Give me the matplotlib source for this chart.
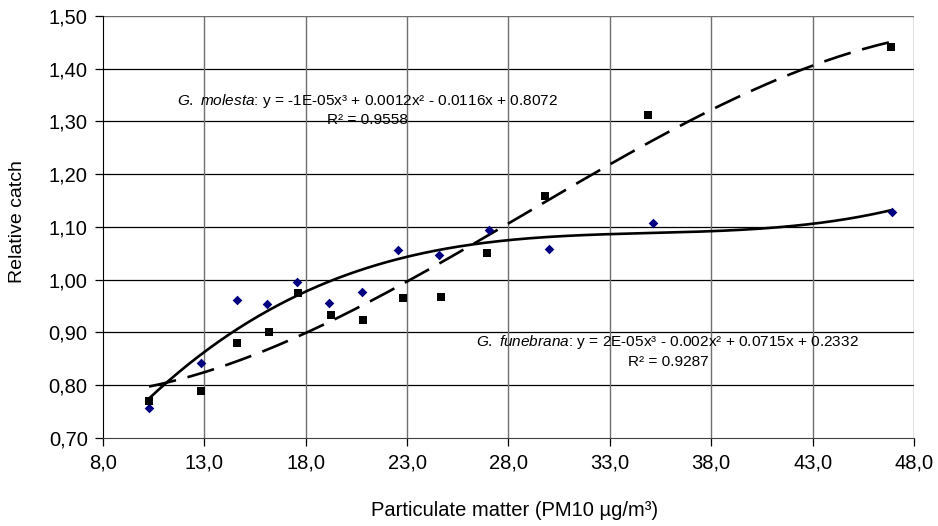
import numpy as np
import matplotlib
matplotlib.use("Agg")
import matplotlib.pyplot as plt
from matplotlib.ticker import FuncFormatter

plt.rcParams['font.family'] = ['Liberation Sans', 'DejaVu Sans']
plt.rcParams['mathtext.fontset'] = 'custom'
plt.rcParams['mathtext.rm'] = 'Liberation Sans'
plt.rcParams['mathtext.it'] = 'Liberation Sans:italic'

# G. molesta (black squares, dashed cubic trend)
mol_x = [10.27, 12.82, 14.62, 16.20, 17.63, 19.26, 20.84, 22.78, 24.68, 26.92, 29.81, 34.87, 46.89]
mol_y = [0.771, 0.789, 0.880, 0.900, 0.974, 0.934, 0.923, 0.966, 0.968, 1.050, 1.159, 1.312, 1.441]

# G. funebrana (navy diamonds, solid cubic trend)
fun_x = [10.27, 12.82, 14.61, 16.10, 17.55, 19.16, 20.77, 22.55, 24.58, 27.05, 30.01, 35.14, 46.90]
fun_y = [0.756, 0.843, 0.961, 0.954, 0.996, 0.956, 0.977, 1.056, 1.047, 1.094, 1.058, 1.107, 1.129]

x_ticks = [8, 13, 18, 23, 28, 33, 38, 43, 48]
y_ticks = [0.7, 0.8, 0.9, 1.0, 1.1, 1.2, 1.3, 1.4, 1.5]

fig = plt.figure(figsize=(9.38, 5.26), dpi=100)
ax = fig.add_axes([0.1098, 0.1673, 0.8646, 0.8023])

# trendlines (cubic polynomial fits, as in the spreadsheet)
for xs, ys, ls in [(mol_x, mol_y, (0, (10.5, 4.5))), (fun_x, fun_y, '-')]:
    c = np.polyfit(xs, ys, 3)
    xx = np.linspace(min(xs), max(xs), 300)
    ax.plot(xx, np.polyval(c, xx), color='black', lw=1.9, linestyle=ls, zorder=3)

ax.scatter(fun_x, fun_y, marker='D', s=24, color='#000080', zorder=4, linewidths=0)
ax.scatter(mol_x, mol_y, marker='s', s=36, color='black', zorder=4, linewidths=0)

ax.set_xlim(8, 48)
ax.set_ylim(0.70, 1.50)
ax.set_xticks(x_ticks)
ax.set_yticks(y_ticks)
ax.xaxis.set_major_formatter(FuncFormatter(lambda v, p: f"{v:.1f}".replace('.', ',')))
ax.yaxis.set_major_formatter(FuncFormatter(lambda v, p: f"{v:.2f}".replace('.', ',')))

for y in y_ticks[1:-1]:
    ax.axhline(y, color='black', lw=0.9, zorder=1)
ax.axhline(y_ticks[-1], color='#707070', lw=1.0, zorder=1)
for x in x_ticks[1:]:
    ax.axvline(x, color='#707070', lw=1.0, zorder=1)

for s in ['top', 'right']:
    ax.spines[s].set_visible(False)
ax.spines['left'].set_color('black')
ax.spines['bottom'].set_color('#404040')
ax.tick_params(axis='both', direction='out', length=6, width=0.9, labelsize=14.5, pad=5)

fig.text(18 / 938, 1 - 222 / 526, 'Relative catch', fontsize=14, rotation=90, ha='center', va='center')
fig.text(515 / 938, 1 - 511 / 526, 'Particulate matter (PM10 µg/m³)', fontsize=14.5, ha='center', va='center')

fs = 11.1
ax.text(0.0909, 0.7986, r'$\mathit{G.\ molesta}$: y = -1E-05x³ + 0.0012x² - 0.0116x + 0.8072',
        fontsize=fs, transform=ax.transAxes, va='center', ha='left')
ax.text(0.3255, 0.754, 'R² = 0.9558', fontsize=fs, transform=ax.transAxes, va='center', ha='center')

ax.text(0.46, 0.2268, r'$\mathit{G.\ funebrana}$: y = 2E-05x³ - 0.002x² + 0.0715x + 0.2332',
        fontsize=fs, transform=ax.transAxes, va='center', ha='left')
ax.text(0.6967, 0.1808, 'R² = 0.9287', fontsize=fs, transform=ax.transAxes, va='center', ha='center')

fig.savefig('out.png', dpi=100)
